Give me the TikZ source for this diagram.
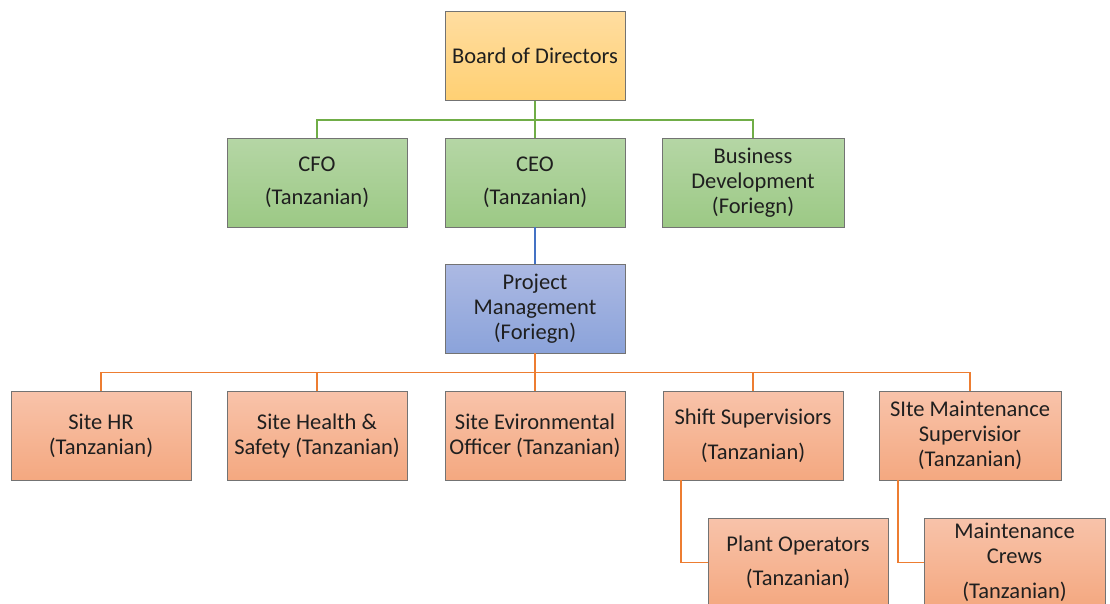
\documentclass[tikz,border=0pt]{standalone}
\usepackage{fontspec}
\setmainfont{Carlito}
\usepackage{tikz}
\usetikzlibrary{positioning}

\definecolor{goldtop}{RGB}{255,221,160}
\definecolor{goldbot}{RGB}{255,208,115}
\definecolor{greentop}{RGB}{181,214,165}
\definecolor{greenbot}{RGB}{156,201,133}
\definecolor{bluetop}{RGB}{172,185,227}
\definecolor{bluebot}{RGB}{139,163,218}
\definecolor{orangetop}{RGB}{248,195,170}
\definecolor{orangebot}{RGB}{244,168,128}
\definecolor{greenline}{RGB}{112,173,71}
\definecolor{blueline}{RGB}{68,114,196}
\definecolor{orangeline}{RGB}{237,125,49}

\begin{document}
\begin{tikzpicture}[
  x=1pt, y=-1pt,
  font=\fontsize{22.5}{25}\selectfont,
  orgbox/.style={draw=black!55, line width=0.8pt, minimum width=180pt, minimum height=89pt, inner sep=0pt, align=center, text=black!88},
  goldbox/.style={orgbox, top color=goldtop, bottom color=goldbot},
  greenbox/.style={orgbox, top color=greentop, bottom color=greenbot},
  bluebox/.style={orgbox, top color=bluetop, bottom color=bluebot},
  orangebox/.style={orgbox, top color=orangetop, bottom color=orangebot},
  greenlink/.style={line width=1.6pt, greenline},
  bluelink/.style={line width=1.6pt, blueline},
  orangelink/.style={line width=1.6pt, orangeline}
]
\useasboundingbox (0,0) rectangle (1110,603);
\clip (0,0) rectangle (1110,603);
\fill[white] (0,0) rectangle (1110,603);

% Top
\node[goldbox] (board) at (535,56) {Board of Directors};

% Executives
\node[greenbox] (cfo) at (317,182.5) {CFO\\[8pt](Tanzanian)};
\node[greenbox] (ceo) at (535,182.5) {CEO\\[8pt](Tanzanian)};
\node[greenbox, minimum width=182pt] (bizdev) at (753,182.5) {Business\\Development\\(Foriegn)};

% Project management
\node[bluebox] (pm) at (535,308.5) {Project\\Management\\(Foriegn)};

% Site staff
\node[orangebox] (hr) at (101,435.5) {Site HR\\(Tanzanian)};
\node[orangebox] (health) at (317,435.5) {Site Health \&\\Safety (Tanzanian)};
\node[orangebox] (enviro) at (535,435.5) {Site Evironmental\\Officer (Tanzanian)};
\node[orangebox] (shift) at (753,435.5) {Shift Supervisiors\\[10pt](Tanzanian)};
\node[orangebox, minimum width=182pt] (maint) at (970,435.5) {SIte Maintenance\\Supervisior\\(Tanzanian)};

% Crews
\node[orangebox] (plant) at (798,562.5) {Plant Operators\\[9pt](Tanzanian)};
\node[orangebox, minimum width=181pt] (crews) at (1014.5,562.5) {Maintenance\\Crews\\[10pt](Tanzanian)};

% Links
\draw[greenlink] (board.south) -- (ceo.north);
\draw[greenlink] (board.south) -- ++(0,19) -| (cfo.north);
\draw[greenlink] (board.south) -- ++(0,19) -| (bizdev.north);
\draw[bluelink] (ceo.south) -- (pm.north);
\foreach \n in {hr,health,enviro,shift,maint}
  \draw[orangelink] (pm.south) -- ++(0,19) -| (\n.north);
\draw[orangelink] ([xshift=-72pt]shift.south) |- (plant.west);
\draw[orangelink] ([xshift=-72pt]maint.south) |- (crews.west);

\end{tikzpicture}
\end{document}
